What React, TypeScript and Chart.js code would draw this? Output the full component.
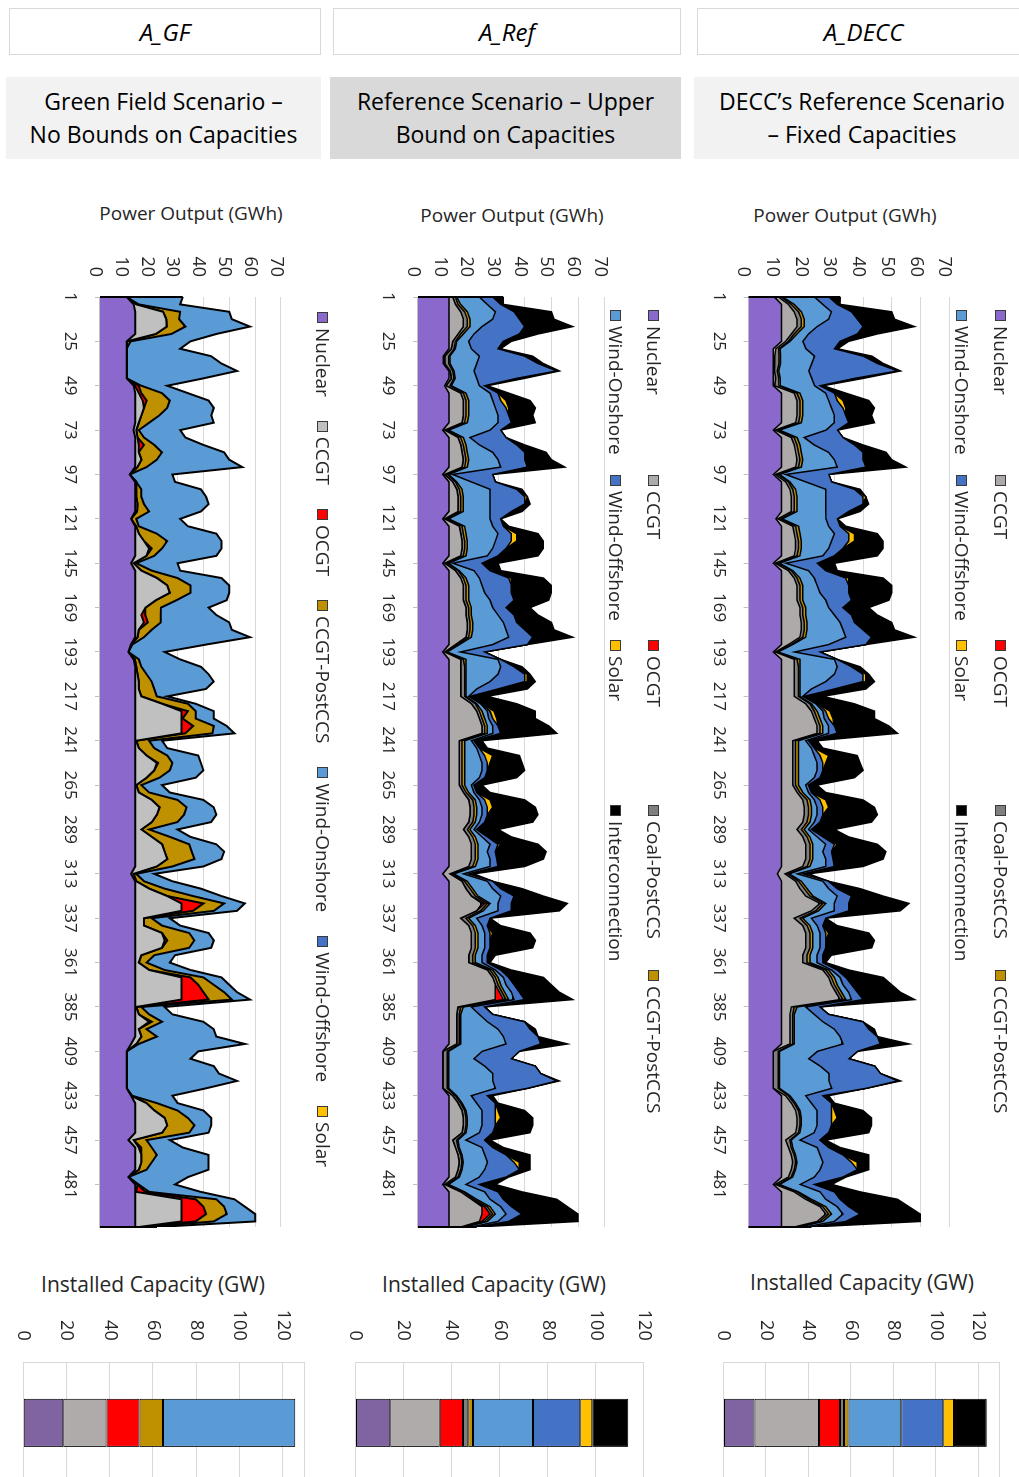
import React, { useEffect, useRef } from 'react';
import { Chart, registerables } from 'chart.js';

Chart.register(...registerables);

const FONT = '"Open Sans", "Noto Sans", "DejaVu Sans", sans-serif';
const TEXT = '#262626';
Chart.defaults.font.family = FONT;
Chart.defaults.color = TEXT;

// Hour of the three-week dispatch horizon at which each output value is sampled
const HOURS = [
  1, 5, 9, 13, 17, 21, 25, 29, 33, 37, 41, 45,
  49, 53, 57, 61, 65, 69, 73, 77, 81, 85, 89, 93,
  97, 101, 105, 109, 113, 117, 121, 125, 129, 133, 137, 141,
  145, 149, 153, 157, 161, 165,
  169, 173, 177, 181, 185, 189, 193, 197, 201, 205, 209, 213,
  217, 221, 225, 229, 233, 237, 241, 245, 249, 253, 257, 261,
  265, 269, 273, 277, 281, 285, 289, 293, 297, 301, 305, 309,
  313, 317, 321, 325, 329, 333, 337,
  341, 345, 349, 353, 357, 361, 365, 369, 373, 377, 381, 385,
  389, 393, 397, 401, 405, 409, 413, 417, 421, 425, 429, 433,
  437, 441, 445, 449, 453, 457, 461, 465, 469, 473, 477, 481,
  485, 489, 493, 497, 501, 504,
];
const HOUR_TICKS = [1, 25, 49, 73, 97, 121, 145, 169, 193, 217, 241, 265, 289, 313, 337, 361, 385, 409, 433, 457, 481];

// ---------- A_GF : Green Field scenario, hourly output (GWh) ----------
const GF_NUCLEAR = [
  10.3, 13, 13.6, 13.6, 13.6, 13.6, 10.3, 10.3, 10.3, 10.3, 10.3, 10.3,
  13, 13.6, 13.6, 13.6, 13.6, 13.6, 13, 13.6, 13.6, 13.6, 13.6, 13.6,
  11.5, 13.6, 13.6, 13.6, 13.6, 13.6, 12, 13.6, 13.6, 13.6, 13.6, 13.6,
  12, 13.6, 13.6, 13.6, 13.6, 13.6,
  13.6, 13.6, 13.6, 13.6, 13.6, 12, 11, 13, 13.6, 13.6, 13.6, 13.6,
  13.6, 13.6, 13.6, 13.6, 13.6, 13.6, 13.6, 13.6, 13.6, 13.6, 13.6, 13.6,
  13.6, 13.6, 13.6, 13.6, 13.6, 13.6, 13.6, 13.6, 13.6, 13.6, 13.6, 13.6,
  12, 13.6, 13.6, 13.6, 13.6, 13.6, 13.6,
  13.6, 13.6, 13.6, 13.6, 13.6, 13.6, 13.6, 13.6, 13.6, 13.6, 13.6, 13.6,
  13.6, 13.6, 13.6, 13.6, 12, 10.3, 10.3, 10.3, 10.3, 10.3, 10.3, 12,
  13.6, 13.6, 13.6, 13.6, 13.6, 11, 13.6, 13.6, 13.6, 13.6, 11, 13.6,
  13.6, 13.6, 13.6, 13.6, 13.6, 13.6,
];
const GF_CCGT = [
  0, 1, 10.8, 12, 12.2, 8, 0, 0, 0, 0, 0, 0,
  0.5, 1.4, 2.9, 3.4, 2.4, 1.4, 1, 0.9, 1.4, 1.4, 2.4, 0.9,
  0, 0.4, 0.4, 0.4, 0.9, 0.7, 0, 0.4, 1.4, 3.4, 5.4, 4.4,
  1, 2.4, 8.4, 12.4, 13.4, 8,
  4, 2.4, 3.4, 1.4, 0.9, 0, 0, 0.5, 0.4, 0.9, 1.4, 1.4,
  2.4, 10.4, 17.9, 17.9, 17.9, 17.9, 0.4, 1.4, 4.4, 8.4, 7.4, 4.4,
  0.4, 1.4, 6.4, 9.4, 8.4, 6.4, 2.4, 6.4, 10.4, 11.4, 12.4, 8.4,
  1, 0.4, 5.4, 12.4, 17.9, 17.9, 3.4,
  3.4, 10.4, 11.4, 10.4, 2.4, 1.4, 5.4, 17.9, 17.9, 17.9, 17.9, 0.4,
  1.4, 5.4, 1.4, 2.4, 2, 0, 0, 0, 0, 0, 0, 0,
  4.4, 7.4, 11.4, 12.4, 10.4, 2, 1.4, 2.4, 2.4, 1.4, 0, 0.9,
  0.4, 17.9, 17.9, 17.9, 17.9, 1.4,
];
const GF_OCGT = [
  0, 0, 0, 0, 0, 0, 0, 0, 0, 0, 0, 0,
  1.5, 1, 1.5, 0, 0, 0, 0, 0, 2, 0, 0, 0,
  0, 0, 0, 0, 0, 0, 0, 0, 0, 0, 1, 0,
  0, 0, 0, 0, 0, 0,
  0, 1.5, 1.5, 0, 0, 0, 0, 0, 0, 0, 0, 0,
  0, 0, 2.5, 0.5, 4.5, 1.5, 0, 0, 0, 0.5, 0, 0,
  0, 0, 0, 0, 0, 0, 0, 0, 0, 0, 0, 0,
  0, 0, 0, 0, 8.5, 4.5, 0,
  0, 0, 1, 0, 0, 0, 0, 3.5, 6.5, 8.5, 10.5, 0,
  0, 1, 0, 0, 0, 0, 0, 0, 0, 0, 0, 0,
  0, 0, 0, 0, 0, 0, 1, 0, 0, 0, 0, 0,
  3.5, 5.5, 8.5, 9.5, 5.5, 0,
];
const GF_POSTCCS = [
  0, 1, 6.6, 5, 7.2, 6, 1.5, 0, 0, 0, 0, 0,
  1, 8, 9, 9, 7, 4, 1, 2.5, 4, 9, 6, 3.5,
  0, 0, 2, 2, 2.5, 4.7, 2, 1, 7, 9, 4, 3,
  1, 4, 8, 9, 8, 8,
  6, 6, 5, 5, 2.5, 0.5, 0, 1.5, 2, 3.5, 5, 6,
  6, 10, 3, 5, 8, 10.5, 5, 6, 8, 5.5, 6, 5,
  2, 4, 10, 10.5, 10.5, 10, 3, 7, 10.5, 10.5, 10.5, 6,
  1, 3, 6, 10, 8, 8, 3,
  7, 10.5, 10.5, 10.5, 5, 3, 6, 5, 6, 8, 9, 2,
  4, 4, 3, 6, 1, 0, 0, 0, 0, 0, 0, 0.5,
  4, 9, 9, 10.5, 10.5, 5, 4, 6, 4, 3, 0, 0.5,
  1.5, 8, 8, 8, 7, 2,
];
const GF_ONSHORE = [
  21.7, 16, 19, 20.4, 25, 17.4, 23.2, 20.7, 32.7, 36.7, 42.7, 29.7,
  10, 10, 15, 18, 20, 25, 16, 16, 19, 24, 28, 37,
  16.5, 15, 23, 25, 25, 20, 17, 19, 23, 21, 23, 24,
  16, 11, 17, 15, 15, 19.4,
  18.4, 21.5, 26.5, 31, 41, 28.5, 14, 16, 23, 24, 24, 20,
  4, 3, 7, 7, 5, 8.5, 5, 5, 12, 11, 13, 14,
  8, 8, 10, 10.5, 12.5, 13, 11, 8, 10.5, 12.5, 10.5, 12,
  7, 11, 14, 11, 8, 9, 7,
  7, 7.5, 7.5, 8.5, 8, 9, 10, 7, 6, 5, 7, 9,
  9, 16, 26, 23, 41, 27.7, 24.7, 33.7, 35.7, 42.7, 30.7, 15.5,
  8, 10, 9, 6.5, 7.5, 9, 12, 20, 22, 24, 23, 14,
  20, 7, 8, 11, 16, 5,
];

// ---------- A_Ref : Reference scenario, hourly output (GWh) ----------
const REF_NUCLEAR = [
  11.6, 11.6, 11.6, 11.6, 11.6, 11.6, 11.6, 11.6, 9.5, 9.5, 11.6, 11.6,
  10, 11.6, 11.6, 11.6, 11.6, 11.6, 9.3, 11.6, 11.6, 11.6, 11.6, 11.6,
  9.3, 11.6, 11.6, 11.6, 11.6, 11.6, 9.3, 11.6, 11.6, 11.6, 11.6, 11.6,
  9.3, 11.6, 11.6, 11.6, 11.6, 11.6,
  11.6, 11.6, 11.6, 11.6, 11.6, 11.6, 9.3, 11.6, 11.6, 11.6, 11.6, 11.6,
  11.6, 11.6, 11.6, 11.6, 11.6, 11.6, 11.6, 11.6, 11.6, 11.6, 11.6, 11.6,
  11.6, 11.6, 11.6, 11.6, 11.6, 11.6, 11.6, 11.6, 11.6, 11.6, 11.6, 11.6,
  9.3, 11.6, 11.6, 11.6, 11.6, 11.6, 11.6,
  11.6, 11.6, 11.6, 11.6, 11.6, 11.6, 11.6, 11.6, 11.6, 11.6, 11.6, 11.6,
  11.6, 11.6, 11.6, 11.6, 11.6, 9.3, 9.3, 9.3, 9.3, 9.3, 9.3, 11.6,
  11.6, 11.6, 11.6, 11.6, 11.6, 11.6, 11.6, 11.6, 11.6, 11.6, 11.6, 9.3,
  11.6, 11.6, 11.6, 11.6, 11.6, 11.6,
];
const REF_CCGT = [
  1.4, 2.4, 4.4, 5.4, 5.4, 3.4, 1.4, 0.9, 0.5, 0.5, 0.4, 0.9,
  0.5, 4.4, 5.4, 5.4, 5.4, 4.9, 0.7, 3.4, 4.4, 4.9, 5.4, 4.9,
  0.7, 1.4, 2.9, 3.4, 3.4, 3.4, 0.7, 3.9, 4.4, 4.9, 4.9, 4.4,
  0.7, 2.4, 4.4, 5.4, 5.4, 5.4,
  6.4, 6.4, 6.9, 6.9, 6.4, 2.4, 0.7, 4.4, 4.4, 4.4, 4.4, 4.4,
  4.4, 8.4, 10.4, 11.4, 12.4, 12.4, 3.9, 3.9, 3.9, 3.9, 3.9, 3.9,
  3.9, 5.4, 7.4, 7.9, 7.9, 7.4, 5.4, 7.4, 8.4, 8.4, 8.4, 7.4,
  2.7, 4.9, 6.4, 8.4, 12.4, 10.4, 4.4,
  7.4, 8.4, 8.4, 8.4, 7.4, 7.4, 14.4, 16.4, 17.4, 17.4, 17.4, 3.4,
  2.9, 2.9, 2.9, 2.9, 2.9, 0, 0, 0, 0, 0, 0, 1.4,
  3.4, 4.9, 5.4, 5.4, 4.9, 1.4, 2.4, 3.4, 3.9, 3.4, 2.4, 0.7,
  4.4, 8.4, 12.4, 12.4, 11.4, 4.4,
];
const REF_OCGT = [
  0, 0, 0, 0, 0, 0, 0, 0, 0, 0, 0, 0,
  0, 0, 0, 0, 0, 0, 0, 0, 0, 0, 0, 0,
  0, 0, 0, 0, 0, 0, 0, 0, 0, 0, 0, 0,
  0, 0, 0, 0, 0, 0,
  0, 0, 0, 0, 0, 0, 0, 0, 0, 0, 0, 0,
  0, 0, 0, 0, 0, 0, 0, 0, 0, 0, 0, 0,
  0, 0, 0, 0, 0, 0, 0, 0, 0, 0, 0, 0,
  0, 0, 0, 0, 1, 0, 0,
  0, 0, 0, 0, 0, 0, 0, 0, 0, 1.5, 3, 0,
  0, 0, 0, 0, 0, 0, 0, 0, 0, 0, 0, 0,
  0, 0, 0, 0, 0, 0, 0, 0, 0, 0, 0, 0,
  0, 0, 1, 3, 1, 0,
];
const REF_COAL = [
  1, 1, 1.5, 1.5, 1.5, 1, 1, 1, 1.5, 1.5, 1, 1,
  1.5, 1, 1, 1, 1, 1, 1, 1, 1, 1, 1, 1,
  1, 1, 1, 1, 1, 1, 1, 1, 1, 1, 1, 1,
  1, 1, 1, 1, 1, 1,
  1, 1, 1, 1, 1, 1, 0.5, 1, 1.5, 1.5, 1.5, 1.5,
  1.5, 1.5, 1, 1, 1, 1, 1, 1, 1, 1, 1, 1,
  1, 1, 1.5, 1.5, 1.5, 1.5, 1.5, 1.5, 1.5, 1.5, 1.5, 1.5,
  1, 1, 1.5, 1.5, 1, 1.5, 2,
  1.5, 1.5, 1.5, 1.5, 1.5, 1.5, 1, 1, 1, 1, 1, 1,
  1, 1, 1, 1, 1, 1.7, 1.7, 1.7, 1.7, 1.7, 1.7, 1,
  1, 1, 1, 1, 1, 1.5, 1, 1, 1, 1, 1, 1,
  1, 1, 1, 1, 1, 1,
];
const REF_POSTCCS = [
  0.5, 1, 1, 1, 1, 1, 0.5, 0.5, 0.5, 0.5, 0.5, 0.5,
  0.5, 1, 1, 1, 1, 1, 0.5, 1, 1, 1, 1, 1,
  0.5, 0.5, 1, 1, 1, 1, 0.5, 1, 1, 1, 1, 1,
  0.5, 0.5, 1, 1, 1, 1,
  1, 1, 1, 1, 1, 0.5, 0.5, 1, 0.5, 0.5, 0.5, 0.5,
  0.5, 0.5, 1, 1, 1, 1, 1, 1, 1, 1, 1, 1,
  1, 1, 1, 1, 1, 1, 1, 1, 1, 1, 1, 1,
  0.5, 1, 1, 1, 1, 1, 1,
  1, 1, 1, 1, 1, 1, 1, 1, 1, 1, 1, 1,
  0.5, 0.5, 0.5, 0.5, 0.5, 0.5, 0.5, 0.5, 0.5, 0.5, 0.5, 0.5,
  0.5, 0.5, 0.5, 0.5, 0.5, 0.5, 0.5, 0.5, 0.5, 0.5, 0.5, 0.5,
  0.5, 1, 1, 1, 1, 1,
];
const REF_ONSHORE = [
  8.5, 10, 10.5, 8.5, 4.5, 4, 4.5, 6, 11, 10, 7.5, 8,
  10.5, 9, 9, 10, 11, 11.5, 15.5, 2.5, 5, 9.5, 11, 12.5,
  1.5, 5.5, 10.5, 10, 10, 10, 15.5, 10.5, 12, 10.5, 9.5, 8,
  1.5, 5.5, 5, 5, 6, 8,
  8, 10, 11.5, 12.5, 14, 12.5, 5, 12, 13, 12, 9, 4,
  1, 1.5, 2, 1.5, 2, 2, 2.5, 4.5, 5.5, 6.5, 6.5, 5.5,
  2.5, 2, 1.5, 2, 2, 1.5, 1.5, 2.5, 4.5, 3.5, 4.5, 5.5,
  3.5, 7.5, 7.5, 8.5, 3, 5.5, 3,
  2.5, 2.5, 2.5, 2.5, 2.5, 2.5, 1, 2, 2, 2.5, 2, 3,
  7, 10, 14, 16, 17, 12.5, 9.5, 13.5, 16.5, 16.5, 17.5, 5.5,
  5.5, 6, 5.5, 5.5, 5, 3, 8.5, 8.5, 9, 8.5, 7.5, 6.5,
  7.5, 5, 4, 4, 4, 2,
];
const REF_OFFSHORE = [
  5, 5, 7, 10, 16, 17, 13, 10, 17, 23, 31, 15,
  2, 3, 3, 4, 4, 5, 4, 13.5, 14, 12, 10, 10,
  15, 9, 10, 13, 13, 8, 4, 4, 5, 6, 5, 4,
  11, 6, 11, 11, 10, 9,
  5, 6, 5, 7, 9, 13, 9, 1, 5, 10, 13, 8,
  0.5, 0.5, 1, 1.5, 2, 3, 1, 1, 2, 2, 2, 2,
  1, 1, 2, 2, 2, 2, 1, 2, 3, 3, 2.5, 3,
  2, 2, 3, 5, 5, 5, 5,
  2, 2, 2, 2, 2, 2, 2, 2, 3, 3, 4, 5,
  5, 14, 12, 13, 13, 14, 14, 19, 18, 24, 12, 6,
  7, 5, 5, 5, 5, 7, 4, 8, 10, 13, 10, 5,
  5, 5, 4, 6, 4, 2,
];
const REF_SOLAR = [
  0, 0, 0, 0, 0, 0, 0, 0, 0, 0, 0, 0,
  0, 0, 2, 1, 0, 0, 0, 0, 0, 0, 0, 0,
  0, 0, 0, 1, 0, 0, 0, 0, 2, 2, 0, 0,
  0, 0, 1, 0, 0, 0,
  0, 0, 0, 0, 0, 0, 0, 0, 0, 1, 1, 0,
  0, 0, 1.5, 1.5, 0, 0, 0, 0, 3, 1, 0, 0,
  0, 0, 2, 2, 0, 0, 0, 0, 1, 0, 0, 0,
  0, 0, 0, 0, 0, 0, 0,
  0, 1, 0, 0, 0, 0, 0, 0, 0, 0, 0, 0,
  0, 0, 0, 0, 0, 0, 0, 0, 0, 0, 0, 0,
  0, 1, 2, 0, 0, 0, 0, 0, 2, 0, 0, 0,
  0, 0, 0, 0, 0, 0,
];
const REF_INTER = [
  4, 1, 14, 13, 18, 7, 3, 1, 3, 2, 1, 3,
  1, 4, 9, 10, 9, 9, 0, 0, 3, 8, 10, 14,
  0, 0, 2, 0, 2, 4, 0, 2, 8, 10, 14, 15,
  6, 4, 12, 15, 15, 13,
  9, 9, 13, 11, 15, 0, 0, 0, 3, 1, 3, 11,
  6.5, 13, 15.5, 14.5, 19, 21, 3, 3, 10, 12, 14, 12,
  3, 5, 13, 16, 19, 18, 8, 9, 14, 19, 17.5, 10,
  2, 0, 8, 11, 21, 18, 0,
  5, 14, 17, 16, 3, 1, 4, 13, 14, 15, 18, 0,
  0, 0, 2, 0, 10, 0, 0, 0, 0, 1, 0, 2,
  1, 10, 12, 14, 14, 2, 4, 9, 4, 4, 1, 6,
  9, 20, 21, 21, 26, 0,
];

// ---------- A_DECC : DECC's reference scenario, hourly output (GWh) ----------
// Coal-PostCCS, CCGT-PostCCS, offshore wind, solar and interconnector flows follow the A_Ref dispatch.
const DECC_NUCLEAR = [
  9, 11.5, 11.5, 11.5, 11.5, 11.5, 11.5, 8.6, 8.6, 8.6, 8.6, 8.6,
  8.6, 11.5, 11.5, 11.5, 11.5, 11.5, 8.6, 11.5, 11.5, 11.5, 11.5, 11.5,
  8.6, 11.5, 11.5, 11.5, 11.5, 11.5, 9.5, 11.5, 11.5, 11.5, 11.5, 11.5,
  8.6, 11.5, 11.5, 11.5, 11.5, 11.5,
  11.5, 11.5, 11.5, 11.5, 11.5, 11.5, 8.6, 11.5, 11.5, 11.5, 11.5, 11.5,
  11.5, 11.5, 11.5, 11.5, 11.5, 11.5, 11.5, 11.5, 11.5, 11.5, 11.5, 11.5,
  11.5, 11.5, 11.5, 11.5, 11.5, 11.5, 11.5, 11.5, 11.5, 11.5, 11.5, 11.5,
  10, 11.5, 11.5, 11.5, 11.5, 11.5, 11.5,
  11.5, 11.5, 11.5, 11.5, 11.5, 11.5, 11.5, 11.5, 11.5, 11.5, 11.5, 11.5,
  11.5, 11.5, 11.5, 11.5, 11.5, 8.6, 8.6, 8.6, 8.6, 8.6, 8.6, 11.5,
  11.5, 11.5, 11.5, 11.5, 11.5, 11.5, 11.5, 11.5, 11.5, 11.5, 11.5, 8.6,
  11.5, 11.5, 11.5, 11.5, 11.5, 11.5,
];
const DECC_CCGT = [
  1.4, 2.4, 4.4, 5.4, 5.4, 3.4, 1.4, 0.9, 0.5, 0.5, 0.4, 0.9,
  0.5, 4.4, 5.4, 5.4, 5.4, 4.9, 0.7, 3.4, 4.4, 4.9, 5.4, 4.9,
  0.7, 1.4, 2.9, 3.4, 3.4, 3.4, 0.7, 3.9, 4.4, 4.9, 4.9, 4.4,
  0.7, 2.4, 4.4, 5.4, 5.4, 5.4,
  6.4, 6.4, 6.9, 6.9, 6.4, 2.4, 0.7, 4.4, 4.4, 4.4, 4.4, 4.4,
  4.4, 8.4, 10.4, 11.4, 12.4, 12.4, 3.9, 3.9, 3.9, 3.9, 3.9, 3.9,
  3.9, 5.4, 7.4, 7.9, 7.9, 7.4, 5.4, 7.4, 8.4, 8.4, 8.4, 7.4,
  2.7, 4.9, 6.4, 8.4, 13.4, 10.4, 4.4,
  7.4, 8.4, 8.4, 8.4, 7.4, 7.4, 14.4, 16.4, 17.4, 18.9, 20.4, 3.4,
  2.9, 2.9, 2.9, 2.9, 2.9, 0, 0, 0, 0, 0, 0, 1.4,
  3.4, 4.9, 5.4, 5.4, 4.9, 1.4, 2.4, 3.4, 3.9, 3.4, 2.4, 0.7,
  4.4, 8.4, 13.4, 15.4, 12.4, 4.4,
];
const DECC_ONSHORE = [
  11.1, 10, 10.5, 8.5, 4.5, 4, 4.5, 9, 11.9, 10.9, 10.5, 11,
  11.9, 9, 9, 10, 11, 11.5, 16.2, 2.5, 5, 9.5, 11, 12.5,
  2.2, 5.5, 10.5, 10, 10, 10, 15.3, 10.5, 12, 10.5, 9.5, 8,
  2.2, 5.5, 5, 5, 6, 8,
  8, 10, 11.5, 12.5, 14, 12.5, 5.7, 12, 13, 12, 9, 4,
  1, 1.5, 2, 1.5, 2, 2, 2.5, 4.5, 5.5, 6.5, 6.5, 5.5,
  2.5, 2, 1.5, 2, 2, 1.5, 1.5, 2.5, 4.5, 3.5, 4.5, 5.5,
  2.8, 7.5, 7.5, 8.5, 3, 5.5, 3,
  2.5, 2.5, 2.5, 2.5, 2.5, 2.5, 1, 2, 2, 2.5, 2, 3,
  7, 10, 14, 16, 17, 13.2, 10.2, 14.2, 17.2, 17.2, 18.2, 5.5,
  5.5, 6, 5.5, 5.5, 5, 3, 8.5, 8.5, 9, 8.5, 7.5, 7.2,
  7.5, 5, 4, 4, 4, 2,
];

// ---------- Installed capacity (GW) ----------
const GF_CAPACITY = [18.5, 20, 15.3, 10.8, 61.2];
const REF_CAPACITY = [14.5, 20.6, 9.6, 2.2, 2.0, 24.9, 19.7, 5.0, 15.0];
const DECC_CAPACITY = [14.6, 30.4, 9.9, 1.9, 2.2, 24.8, 19.8, 5.0, 15.5];

// ---------- colours ----------
const COL = {
  nuclear: '#8b68cc',
  nuclearBar: '#8064a2',
  ccgtLight: '#c0c0c0',
  ccgt: '#aeaaaa',
  ocgt: '#ff0000',
  coal: '#7f7f7f',
  postccs: '#bf9000',
  onshore: '#5b9bd5',
  offshore: '#4472c4',
  solar: '#ffc000',
  inter: '#000000',
};

type Series = { label: string; color: string; values: number[] };
type LegendItem = { label: string; color: string };

const GF_SERIES: Series[] = [
  { label: 'Nuclear', color: COL.nuclear, values: GF_NUCLEAR },
  { label: 'CCGT', color: COL.ccgtLight, values: GF_CCGT },
  { label: 'OCGT', color: COL.ocgt, values: GF_OCGT },
  { label: 'CCGT-PostCCS', color: COL.postccs, values: GF_POSTCCS },
  { label: 'Wind-Onshore', color: COL.onshore, values: GF_ONSHORE },
];
const REF_SERIES: Series[] = [
  { label: 'Nuclear', color: COL.nuclear, values: REF_NUCLEAR },
  { label: 'CCGT', color: COL.ccgt, values: REF_CCGT },
  { label: 'OCGT', color: COL.ocgt, values: REF_OCGT },
  { label: 'Coal-PostCCS', color: COL.coal, values: REF_COAL },
  { label: 'CCGT-PostCCS', color: COL.postccs, values: REF_POSTCCS },
  { label: 'Wind-Onshore', color: COL.onshore, values: REF_ONSHORE },
  { label: 'Wind-Offshore', color: COL.offshore, values: REF_OFFSHORE },
  { label: 'Solar', color: COL.solar, values: REF_SOLAR },
  { label: 'Interconnection', color: COL.inter, values: REF_INTER },
];
const DECC_SERIES: Series[] = [
  { label: 'Nuclear', color: COL.nuclear, values: DECC_NUCLEAR },
  { label: 'CCGT', color: COL.ccgt, values: DECC_CCGT },
  { label: 'Coal-PostCCS', color: COL.coal, values: REF_COAL },
  { label: 'CCGT-PostCCS', color: COL.postccs, values: REF_POSTCCS },
  { label: 'Wind-Onshore', color: COL.onshore, values: DECC_ONSHORE },
  { label: 'Wind-Offshore', color: COL.offshore, values: REF_OFFSHORE },
  { label: 'Solar', color: COL.solar, values: REF_SOLAR },
  { label: 'Interconnection', color: COL.inter, values: REF_INTER },
];

const GF_LEGEND: LegendItem[][] = [[
  { label: 'Nuclear', color: COL.nuclear },
  { label: 'CCGT', color: COL.ccgtLight },
  { label: 'OCGT', color: COL.ocgt },
  { label: 'CCGT-PostCCS', color: COL.postccs },
  { label: 'Wind-Onshore', color: COL.onshore },
  { label: 'Wind-Offshore', color: COL.offshore },
  { label: 'Solar', color: COL.solar },
]];
const FULL_LEGEND: LegendItem[][] = [
  [
    { label: 'Nuclear', color: COL.nuclear },
    { label: 'CCGT', color: COL.ccgt },
    { label: 'OCGT', color: COL.ocgt },
    { label: 'Coal-PostCCS', color: COL.coal },
    { label: 'CCGT-PostCCS', color: COL.postccs },
  ],
  [
    { label: 'Wind-Onshore', color: COL.onshore },
    { label: 'Wind-Offshore', color: COL.offshore },
    { label: 'Solar', color: COL.solar },
    { label: 'Interconnection', color: COL.inter },
  ],
];

const GF_BARS: LegendItem[] = [
  { label: 'Nuclear', color: COL.nuclearBar },
  { label: 'CCGT', color: '#afabab' },
  { label: 'OCGT', color: COL.ocgt },
  { label: 'CCGT-PostCCS', color: COL.postccs },
  { label: 'Wind-Onshore', color: COL.onshore },
];
const FULL_BARS: LegendItem[] = [
  { label: 'Nuclear', color: COL.nuclearBar },
  { label: 'CCGT', color: '#afabab' },
  { label: 'OCGT', color: COL.ocgt },
  { label: 'Coal-PostCCS', color: COL.coal },
  { label: 'CCGT-PostCCS', color: COL.postccs },
  { label: 'Wind-Onshore', color: COL.onshore },
  { label: 'Wind-Offshore', color: COL.offshore },
  { label: 'Solar', color: COL.solar },
  { label: 'Interconnection', color: COL.inter },
];

// Closes the stacked area at the first and last hour, like the outline of a filled area.
const areaEdges = {
  id: 'areaEdges',
  afterDatasetsDraw(chart: any) {
    const { ctx, scales } = chart;
    const labels = chart.data.labels as number[];
    const sets = chart.data.datasets;
    [0, labels.length - 1].forEach((i) => {
      let total = 0;
      sets.forEach((d: any) => { total += d.data[i]; });
      const px = scales.x.getPixelForValue(labels[i]);
      ctx.save();
      ctx.strokeStyle = '#000';
      ctx.lineWidth = 2;
      ctx.beginPath();
      ctx.moveTo(px, scales.y.getPixelForValue(0));
      ctx.lineTo(px, scales.y.getPixelForValue(total));
      ctx.stroke();
      ctx.restore();
    });
  },
};

type Frame = { sx: number; sy: number; w: number; h: number };

// A box whose content is laid out unrotated (w x h) and shown turned a quarter clockwise.
function Turned({ f, children }: { f: Frame; children: React.ReactNode }) {
  return (
    <div style={{ position: 'absolute', left: f.sx, top: f.sy, width: f.h, height: f.w }}>
      <div
        style={{
          position: 'absolute', left: 0, top: 0, width: f.w, height: f.h,
          transformOrigin: '0 0', transform: `translateX(${f.h}px) rotate(90deg)`,
        }}
      >
        {children}
      </div>
    </div>
  );
}

function LegendSwatch({ item }: { item: LegendItem }) {
  return (
    <span style={{ display: 'inline-flex', alignItems: 'center', whiteSpace: 'nowrap' }}>
      <span
        style={{
          display: 'inline-block', width: 11, height: 11, background: item.color,
          border: '1px solid #3a3a3a', boxSizing: 'border-box', marginRight: 5,
        }}
      />
      <span style={{ fontSize: 19, lineHeight: '22px', color: TEXT }}>{item.label}</span>
    </span>
  );
}

type AreaProps = {
  f: Frame; padTop: number; padRight: number; yAxisW: number; xAxisH: number; lineWidth: number;
  series: Series[]; legend: LegendItem[][]; legendX: number; legendRows: number[];
  legendCol?: number; legendGap?: number;
};

function OutputChart(p: AreaProps) {
  const ref = useRef<HTMLCanvasElement>(null);
  useEffect(() => {
    const chart = new Chart(ref.current as HTMLCanvasElement, {
      type: 'line',
      data: {
        labels: HOURS,
        datasets: p.series.map((s, i) => ({
          label: s.label,
          data: s.values,
          backgroundColor: s.color,
          borderColor: '#000',
          borderWidth: p.lineWidth,
          pointRadius: 0,
          tension: 0,
          fill: i === 0 ? 'origin' : '-1',
        })),
      },
      options: {
        animation: false,
        responsive: false,
        devicePixelRatio: 1,
        events: [],
        layout: { padding: { top: p.padTop, right: p.padRight, bottom: 0, left: 0 } },
        plugins: { legend: { display: false }, tooltip: { enabled: false } },
        scales: {
          x: {
            type: 'linear', min: 1, max: 504,
            afterBuildTicks: (scale: any) => { scale.ticks = HOUR_TICKS.map((v) => ({ value: v })); },
            afterFit: (scale: any) => { scale.height = p.xAxisH; },
            grid: { display: true, drawOnChartArea: false, drawTicks: true, tickLength: 5, color: '#bfbfbf' },
            border: { display: true, color: '#bfbfbf', width: 1 },
            ticks: { autoSkip: false, maxRotation: 0, minRotation: 0, padding: 15, color: TEXT, font: { family: FONT, size: 17 } },
          },
          y: {
            stacked: true, min: 0, max: 70,
            afterFit: (scale: any) => { scale.width = p.yAxisW; },
            grid: { color: '#d9d9d9', drawTicks: false },
            border: { display: false },
            ticks: { stepSize: 10, padding: 20, labelOffset: 5, color: TEXT, font: { family: FONT, size: 18 } },
          },
        },
      },
      plugins: [areaEdges],
    } as any);
    return () => chart.destroy();
  }, []);
  return (
    <Turned f={p.f}>
      <canvas ref={ref} width={p.f.w} height={p.f.h} style={{ position: 'absolute', left: 0, top: 0, width: p.f.w, height: p.f.h }} />
      {p.legend.map((row, r) => (
        <div
          key={r}
          style={{
            position: 'absolute', left: p.legendX, top: p.legendRows[r] - 11, height: 22,
            display: 'flex', alignItems: 'center', gap: p.legendGap ?? 0, whiteSpace: 'nowrap',
          }}
        >
          {row.map((item) => (
            <div key={item.label} style={p.legendCol ? { width: p.legendCol, flex: '0 0 auto' } : undefined}>
              <LegendSwatch item={item} />
            </div>
          ))}
        </div>
      ))}
    </Turned>
  );
}

type BarProps = { f: Frame; padTop: number; padBottom: number; yAxisW: number; max: number; parts: LegendItem[]; values: number[] };

function CapacityChart(p: BarProps) {
  const ref = useRef<HTMLCanvasElement>(null);
  useEffect(() => {
    const chart = new Chart(ref.current as HTMLCanvasElement, {
      type: 'bar',
      data: {
        labels: [''],
        datasets: p.parts.map((part, i) => ({
          label: part.label,
          data: [p.values[i]],
          backgroundColor: part.color,
          borderColor: '#000',
          borderWidth: 1,
          borderSkipped: false,
          barPercentage: 0.4,
          categoryPercentage: 1,
        })),
      },
      options: {
        animation: false,
        responsive: false,
        devicePixelRatio: 1,
        events: [],
        layout: { padding: { top: p.padTop, bottom: 0, left: 0, right: 0 } },
        plugins: { legend: { display: false }, tooltip: { enabled: false } },
        scales: {
          x: {
            stacked: true, display: true,
            afterFit: (scale: any) => { scale.height = p.padBottom; scale.paddingLeft = 0; scale.paddingRight = 0; },
            grid: { display: false },
            border: { display: false },
            ticks: { display: false },
          },
          y: {
            stacked: true, min: 0, max: p.max,
            afterFit: (scale: any) => { scale.width = p.yAxisW; scale.paddingTop = 0; scale.paddingBottom = 0; },
            grid: { color: '#d9d9d9', drawTicks: false },
            border: { display: true, color: '#d9d9d9' },
            ticks: {
              stepSize: 20, padding: 22, color: TEXT, font: { family: FONT, size: 18 },
              callback: (v: any) => (Number(v) <= 120 ? String(v) : ''),
            },
          },
        },
      },
    } as any);
    return () => chart.destroy();
  }, []);
  return (
    <Turned f={p.f}>
      <canvas ref={ref} width={p.f.w} height={p.f.h} style={{ position: 'absolute', left: 0, top: 0, width: p.f.w, height: p.f.h }} />
    </Turned>
  );
}

function Label({ cx, cy, text, size, width = 320 }: { cx: number; cy: number; text: string; size: number; width?: number }) {
  return (
    <div
      style={{
        position: 'absolute', left: cx - width / 2, top: cy - 14, width, height: 28,
        textAlign: 'center', fontSize: size, lineHeight: '28px', color: TEXT, whiteSpace: 'nowrap',
      }}
    >
      {text}
    </div>
  );
}

function Header({ left, width, code, lines, shade }: { left: number; width: number; code: string; lines: string[]; shade: string }) {
  return (
    <>
      <div
        style={{
          position: 'absolute', left, top: 8, width, height: 47, boxSizing: 'border-box',
          border: '1px solid #d9d9d9', background: '#fff', display: 'flex', alignItems: 'center',
          justifyContent: 'center', fontStyle: 'italic', fontSize: 24, color: '#000',
        }}
      >
        {code}
      </div>
      <div
        style={{
          position: 'absolute', left: left - 3, top: 77, width: width + 3, height: 82, background: shade,
          display: 'flex', flexDirection: 'column', alignItems: 'center', justifyContent: 'center',
          fontSize: 23, lineHeight: '33px', color: '#000', whiteSpace: 'nowrap',
        }}
      >
        {lines.map((l) => <div key={l}>{l}</div>)}
      </div>
    </>
  );
}

export default function App() {
  return (
    <div
      style={{
        position: 'fixed', left: 0, top: 0, width: 1019, height: 1477, overflow: 'hidden',
        background: '#fff', fontFamily: FONT,
      }}
    >
      <Header left={9} width={312} code="A_GF" lines={['Green Field Scenario –', 'No Bounds on Capacities']} shade="#f2f2f2" />
      <Header left={333} width={348} code="A_Ref" lines={['Reference Scenario – Upper', 'Bound on Capacities']} shade="#d9d9d9" />
      <Header left={697} width={333} code="A_DECC" lines={['DECC’s Reference Scenario', '– Fixed Capacities']} shade="#f2f2f2" />

      <Label cx={191} cy={213} text="Power Output (GWh)" size={19} />
      <Label cx={512} cy={215} text="Power Output (GWh)" size={19} />
      <Label cx={845} cy={215} text="Power Output (GWh)" size={19} />

      <OutputChart
        f={{ sx: 50, sy: 240, w: 1000, h: 300 }} padTop={69} padRight={13} yAxisW={57} xAxisH={50} lineWidth={2}
        series={GF_SERIES} legend={GF_LEGEND} legendX={72} legendRows={[27]} legendGap={24}
      />
      <OutputChart
        f={{ sx: 370, sy: 240, w: 1000, h: 310 }} padTop={75.3} padRight={13} yAxisW={57} xAxisH={48} lineWidth={1.5}
        series={REF_SERIES} legend={FULL_LEGEND} legendX={70} legendRows={[26, 64]} legendCol={165}
      />
      <OutputChart
        f={{ sx: 700, sy: 240, w: 1000, h: 319 }} padTop={69.7} padRight={13} yAxisW={57} xAxisH={48.6} lineWidth={1.5}
        series={DECC_SERIES} legend={FULL_LEGEND} legendX={70} legendRows={[18, 57]} legendCol={165}
      />

      <Label cx={153} cy={1284} text="Installed Capacity (GW)" size={21} />
      <Label cx={494} cy={1284} text="Installed Capacity (GW)" size={21} />
      <Label cx={862} cy={1282} text="Installed Capacity (GW)" size={21} />

      <CapacityChart f={{ sx: 0, sy: 1280, w: 203, h: 320 }} padTop={15.6} padBottom={23.2} yAxisW={82.7} max={130} parts={GF_BARS} values={GF_CAPACITY} />
      <CapacityChart f={{ sx: 330, sy: 1280, w: 203, h: 330 }} padTop={16} padBottom={25.4} yAxisW={82.7} max={120} parts={FULL_BARS} values={REF_CAPACITY} />
      <CapacityChart f={{ sx: 700, sy: 1280, w: 203, h: 319 }} padTop={19.7} padBottom={23.4} yAxisW={82.7} max={130} parts={FULL_BARS} values={DECC_CAPACITY} />
    </div>
  );
}
